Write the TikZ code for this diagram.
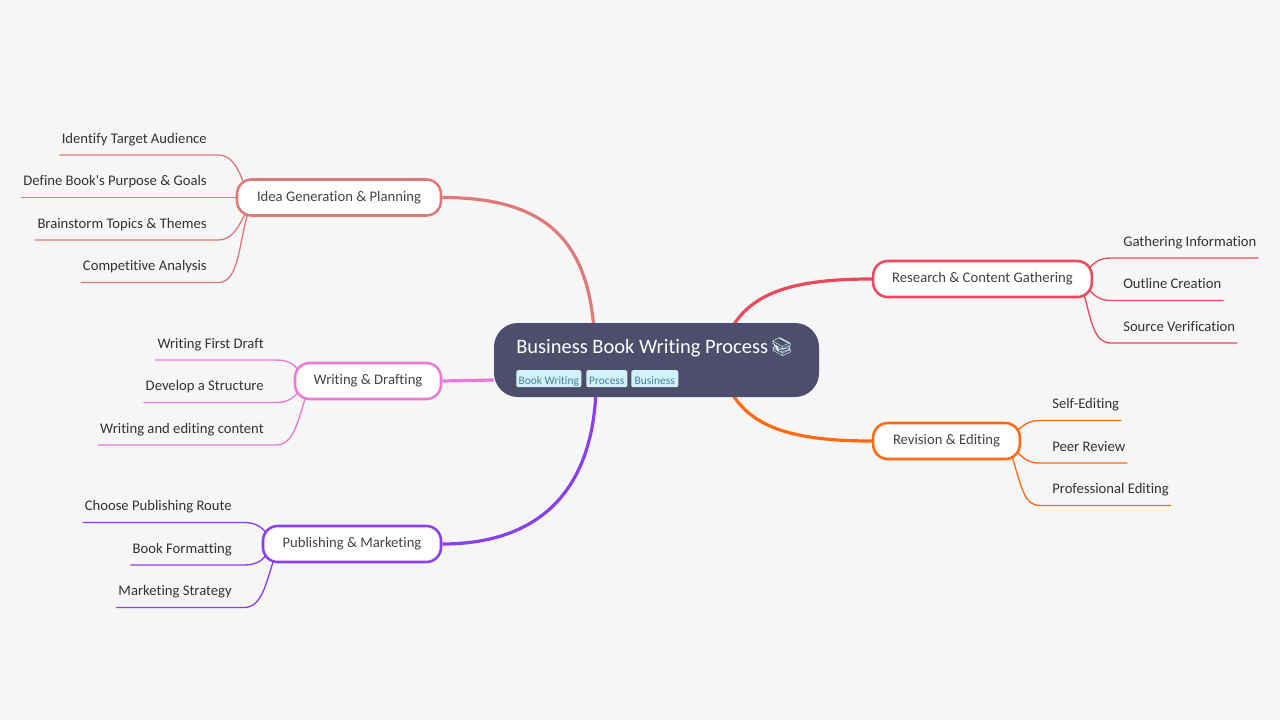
\documentclass[tikz,border=0pt]{standalone}
\usepackage{fontspec}
\setmainfont{Carlito}[Ligatures=CommonOff]
\newfontfamily\emojifont{Noto Emoji}
\usetikzlibrary{backgrounds}
\definecolor{mpage}{HTML}{F6F6F6}
\definecolor{mroot}{HTML}{4C4E6B}
\definecolor{mtext}{HTML}{333333}
\definecolor{mtopic}{HTML}{444444}
\definecolor{mtag}{HTML}{D4F0F7}
\definecolor{mtagtext}{HTML}{3F8499}
\definecolor{midea}{HTML}{E07A7A}
\definecolor{mdraft}{HTML}{EE78D6}
\definecolor{mpub}{HTML}{8A3FEE}
\definecolor{mres}{HTML}{EA4A5C}
\definecolor{mrev}{HTML}{FF6A13}
\tikzset{root/.style = {fill=mroot, rounded corners=18pt, minimum width=243.75pt, minimum height=55.5pt},
         title/.style = {anchor=base west, inner sep=0pt, text=white, font=\fontsize{15.35pt}{18pt}\selectfont},
         tagbox/.style = {anchor=west, fill=mtag, rounded corners=1.5pt, inner sep=0pt, minimum height=12.75pt,
                          text height=8.25pt, text depth=0pt, text=mtagtext, font=\fontsize{8.6pt}{11pt}\selectfont},
         topic/.style = {fill=white, line width=1.9pt, rounded corners=11pt, minimum height=27pt, inner sep=0pt,
                         text height=8pt, text depth=2.5pt, text=mtopic, font=\fontsize{11pt}{14pt}\selectfont},
         leaf/.style = {inner sep=1.5pt, text height=8pt, text depth=2.5pt, text=mtext,
                        font=\fontsize{11pt}{14pt}\selectfont, minimum height=22.5pt},
         trunk/.style = {line width=2.4pt},
         twig/.style = {line width=1pt}}

\begin{document}
\begin{tikzpicture}[x=0.75pt, y=-0.75pt]
    \useasboundingbox (0, 0) rectangle (1280, 720);
    % middle
    \node [root] (book) at (656.5, 360) {};
    \node [title] (booktitle) at (516, 353.5) {Business Book Writing Process\hspace{1.5pt}{\emojifont\fontsize{13.8pt}{16pt}\selectfont\textcolor{mtag}{📚}}};
    \node [tagbox, minimum width=48.75pt] (tagwriting) at (516, 378.7) {Book Writing};
    \node [tagbox, minimum width=30.75pt] (tagprocess) at (586, 378.7) {Process};
    \node [tagbox, minimum width=35.25pt] (tagbusiness) at (631, 378.7) {Business};
    % topics
    \node [topic, draw=midea, minimum width=153pt] (idea) at (339, 197.5) {Idea Generation \& Planning};
    \node [topic, draw=mdraft, minimum width=109.5pt] (draft) at (368, 381) {Writing \& Drafting};
    \node [topic, draw=mpub, minimum width=133.5pt] (pub) at (352, 544) {Publishing \& Marketing};
    \node [topic, draw=mres, minimum width=164pt] (res) at (982.5, 279) {Research \& Content Gathering};
    \node [topic, draw=mrev, minimum width=110pt] (rev) at (946.5, 441) {Revision \& Editing};
    % leaves on the left
    \node [leaf, anchor=south east] (audience) at (209, 155) {Identify Target Audience};
    \node [leaf, anchor=south east] (purpose) at (209, 197.5) {Define Book\textquotesingle s Purpose \& Goals};
    \node [leaf, anchor=south east] (themes) at (209, 240) {Brainstorm Topics \& Themes};
    \node [leaf, anchor=south east] (analysis) at (209, 282.5) {Competitive Analysis};
    \node [leaf, anchor=south east] (firstdraft) at (266, 360) {Writing First Draft};
    \node [leaf, anchor=south east] (structure) at (266, 402.5) {Develop a Structure};
    \node [leaf, anchor=south east] (content) at (266, 445) {Writing and editing content};
    \node [leaf, anchor=south east] (route) at (234, 522.5) {Choose Publishing Route};
    \node [leaf, anchor=south east] (formatting) at (234, 565) {Book Formatting};
    \node [leaf, anchor=south east] (strategy) at (234, 607.5) {Marketing Strategy};
    % leaves on the right
    \node [leaf, anchor=south west] (gathering) at (1121, 258) {Gathering Information};
    \node [leaf, anchor=south west] (outline) at (1121, 300.5) {Outline Creation};
    \node [leaf, anchor=south west] (source) at (1121, 343) {Source Verification};
    \node [leaf, anchor=south west] (selfedit) at (1050, 420.5) {Self-Editing};
    \node [leaf, anchor=south west] (peer) at (1050, 463) {Peer Review};
    \node [leaf, anchor=south west] (pro) at (1050, 505.5) {Professional Editing};
    \begin{pgfonlayer}{background}
      \fill [mpage] (0, 0) rectangle (1280, 720);
      \draw [trunk, midea] (idea.east) .. controls (540, 197.5) and (587, 235) .. (594, 330);
      \draw [trunk, mdraft] (draft.east) -- (book.west |- 0, 380);
      \draw [trunk, mpub] (pub.east) .. controls (530, 544) and (592, 500) .. (596, 390);
      \draw [trunk, mres] (res.west) .. controls (800, 279) and (755, 290) .. (733, 326);
      \draw [trunk, mrev] (rev.west) .. controls (800, 441) and (755, 430) .. (733, 395);
      \draw [twig, midea] (audience.south west) -- (audience.south east) -- (218, 155) .. controls (232, 155) and (238, 168) .. (244, 184);
      \draw [twig, midea] (purpose.south west) -- (idea.west);
      \draw [twig, midea] (themes.south west) -- (themes.south east) -- (218, 240) .. controls (232, 240) and (238, 228) .. (246, 212);
      \draw [twig, midea] (analysis.south west) -- (analysis.south east) -- (218, 282.5) .. controls (238, 282.5) and (238, 250) .. (248, 212);
      \draw [twig, mdraft] (firstdraft.south west) -- (firstdraft.south east) -- (276, 360) .. controls (288, 360) and (294, 364) .. (300, 372);
      \draw [twig, mdraft] (structure.south west) -- (structure.south east) -- (276, 402.5) .. controls (288, 402.5) and (294, 398) .. (300, 390);
      \draw [twig, mdraft] (content.south west) -- (content.south east) -- (276, 445) .. controls (294, 445) and (298, 420) .. (306, 396);
      \draw [twig, mpub] (route.south west) -- (route.south east) -- (244, 522.5) .. controls (256, 522.5) and (262, 527) .. (268, 535);
      \draw [twig, mpub] (formatting.south west) -- (formatting.south east) -- (244, 565) .. controls (256, 565) and (262, 561) .. (268, 553);
      \draw [twig, mpub] (strategy.south west) -- (strategy.south east) -- (244, 607.5) .. controls (262, 607.5) and (266, 583) .. (274, 559);
      \draw [twig, mres] (gathering.south east) -- (gathering.south west) -- (1111, 258) .. controls (1100, 258) and (1094, 262) .. (1088, 270);
      \draw [twig, mres] (outline.south east) -- (outline.south west) -- (1111, 300.5) .. controls (1100, 300.5) and (1094, 296) .. (1088, 288);
      \draw [twig, mres] (source.south east) -- (source.south west) -- (1111, 343) .. controls (1095, 343) and (1092, 325) .. (1084, 294);
      \draw [twig, mrev] (selfedit.south east) -- (selfedit.south west) -- (1040, 420.5) .. controls (1029, 420.5) and (1023, 425) .. (1016, 432);
      \draw [twig, mrev] (peer.south east) -- (peer.south west) -- (1040, 463) .. controls (1029, 463) and (1023, 459) .. (1016, 450);
      \draw [twig, mrev] (pro.south east) -- (pro.south west) -- (1040, 505.5) .. controls (1025, 505.5) and (1022, 490) .. (1012, 456);
    \end{pgfonlayer}
  \end{tikzpicture}
\end{document}
